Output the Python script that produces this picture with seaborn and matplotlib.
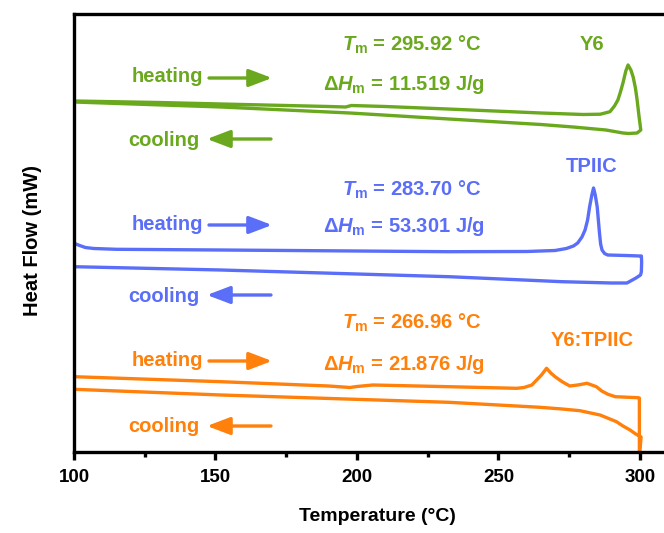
import numpy as np
import pandas as pd
import matplotlib
matplotlib.use("Agg")
import matplotlib.pyplot as plt
import seaborn as sns

# ---------------- data (heat flow in arbitrary, offset units) ----------------
y6_heat_T = [100, 130, 152, 175, 190, 196, 198, 210, 232, 265, 280, 286, 289.4, 291, 292.2, 293, 294, 295,
             295.8, 296.8, 297.6, 298.4, 299, 299.7, 300.3]
y6_heat_H = [351, 349.5, 348, 346.5, 345.5, 345, 346.5, 345.5, 343, 339, 337.5, 337.8, 340.3, 346, 352, 359,
             369, 381, 387, 382, 375, 364, 352, 335, 322]
y6_cool_T = [300.3, 299, 296, 294, 288, 276.4, 265, 259, 232.5, 197.5, 152, 100]
y6_cool_H = [322, 319, 318.5, 319, 322, 325, 327.5, 328.5, 333, 339, 345, 350]

tp_heat_T = [100, 102, 104, 107, 115, 152, 200, 232.5, 260, 270, 274, 276.5, 278, 279.5, 280.6, 281.5, 282.2,
             283, 283.6, 284.2, 284.9, 285.3, 285.7, 286.1, 286.6, 287.5, 288.6, 295, 300, 300.5]
tp_heat_H = [208.7, 206.5, 204.5, 203.5, 202.7, 202, 201, 200.3, 200.5, 201.5, 203.5, 206, 209, 215, 222, 232,
             245, 257, 264, 257, 245, 232, 219, 208, 202, 198.5, 197, 196.5, 196, 196]
tp_cool_T = [300.6, 300.5, 300.2, 298.6, 295.4, 290, 272.5, 232.5, 152, 100]
tp_cool_H = [190, 180.3, 177, 174, 169, 169, 170.3, 175.3, 182, 185.3]

mix_heat_T = [100, 152, 190, 197.5, 200, 205.6, 232.5, 256.5, 259, 261.8, 263.5, 265.2, 267, 268.5, 270, 272.5,
              275.2, 278, 281.3, 284.6, 286.5, 288.7, 291.3, 299.3, 299.8, 299.8]
mix_heat_H = [75.3, 70.3, 66, 64.5, 65.5, 67, 65.3, 63.7, 64.5, 67, 72, 77, 83.7, 79, 75.3, 70.3,
              66, 67, 68.7, 65.3, 61, 57.7, 55.3, 54.3, 54, -5]
mix_cool_T = [300.4, 298.5, 296.5, 294, 291.7, 288.5, 285.9, 278.8, 272.5, 264.7, 232.5, 152, 100]
mix_cool_H = [15, 18, 22, 26, 30.3, 34, 37, 41.3, 43, 44.7, 49.7, 57, 62.7]

samples = ["Y6", "TPIIC", "Y6:TPIIC"]
colors = {"Y6": "#6aa81e", "TPIIC": "#5a6ef8", "Y6:TPIIC": "#ff800a"}
tm_text = {"Y6": "295.92", "TPIIC": "283.70", "Y6:TPIIC": "266.96"}
dh_text = {"Y6": "11.519", "TPIIC": "53.301", "Y6:TPIIC": "21.876"}

# ---------------- style ----------------
sns.set_style("white")
plt.rcParams["font.family"] = ["Liberation Sans", "DejaVu Sans"]
plt.rcParams["font.weight"] = "bold"
plt.rcParams["text.color"] = "black"
plt.rcParams["axes.labelcolor"] = "black"
plt.rcParams["xtick.color"] = "black"
plt.rcParams["mathtext.fontset"] = "custom"
plt.rcParams["mathtext.rm"] = "Liberation Sans:bold"
plt.rcParams["mathtext.it"] = "Liberation Sans:italic:bold"
plt.rcParams["mathtext.bf"] = "Liberation Sans:bold"

fig = plt.figure(figsize=(6.64, 5.33), dpi=100)
ax = fig.add_axes([74 / 664, 1 - 452 / 533, 1 - 74 / 664, (452 - 14) / 533])

frames = []
for name, (hT, hH, cT, cH) in {
    "Y6": (y6_heat_T, y6_heat_H, y6_cool_T, y6_cool_H),
    "TPIIC": (tp_heat_T, tp_heat_H, tp_cool_T, tp_cool_H),
    "Y6:TPIIC": (mix_heat_T, mix_heat_H, mix_cool_T, mix_cool_H),
}.items():
    df = pd.DataFrame({"T": list(hT) + list(cT), "H": list(hH) + list(cH)})
    sns.lineplot(data=df, x="T", y="H", sort=False, estimator=None, color=colors[name],
                 lw=2.4, ax=ax, solid_joinstyle="round", solid_capstyle="round")

ax.set_xlim(100, 308.5)
ax.set_ylim(0, 438)

# annotations
def T(px):
    return 100 + (px - 74) / 2.83

def H(py):
    return 452 - py

lab = {"Y6": (45, 77, 140, 45, 85), "TPIIC": (166, 224, 296, 190, 227), "Y6:TPIIC": (340, 360, 427, 323, 365)}
fs = 14.5
for name in samples:
    c = colors[name]
    ly, hy, cy, tmy, dhy = lab[name]
    ax.text(T(592), H(ly), name, color=c, fontsize=fs, fontweight="bold", ha="center", va="center")
    ax.text(T(167), H(hy), "heating", color=c, fontsize=fs, fontweight="bold", ha="center", va="center")
    ax.text(T(164), H(cy), "cooling", color=c, fontsize=fs, fontweight="bold", ha="center", va="center")
    ap = dict(arrowstyle="-|>,head_length=1.0,head_width=0.38", color=c, lw=2.4, mutation_scale=14,
              shrinkA=0, shrinkB=0)
    ax.annotate("", xy=(T(272), H(hy + 1)), xytext=(T(209), H(hy + 1)), arrowprops=ap)
    ax.annotate("", xy=(T(207), H(cy - 1)), xytext=(T(271), H(cy - 1)), arrowprops=ap)
    ax.text(T(412), H(tmy), r"$T_{\mathrm{m}}$ = " + tm_text[name] + " °C", color=c, fontsize=fs,
            fontweight="bold", ha="center", va="center")
    ax.text(T(404), H(dhy), r"Δ$H_{\mathrm{m}}$ = " + dh_text[name] + " J/g", color=c, fontsize=fs,
            fontweight="bold", ha="center", va="center")

# axes styling
for s in ["left", "bottom", "top"]:
    ax.spines[s].set_linewidth(2.4)
    ax.spines[s].set_color("black")
ax.spines["right"].set_visible(False)
ax.set_yticks([])
ax.set_xticks([100, 150, 200, 250, 300])
ax.set_xticks([125, 175, 225, 275], minor=True)
ax.tick_params(axis="x", which="major", direction="out", length=6, width=2.4, labelsize=13.5, pad=6,
               bottom=True, colors="black")
ax.tick_params(axis="x", which="minor", direction="out", length=3.5, width=2.4, bottom=True, colors="black")
for lbl in ax.get_xticklabels():
    lbl.set_fontweight("bold")
ax.set_xlabel("Temperature (°C)", fontsize=14, fontweight="bold", color="black")
ax.set_ylabel("Heat Flow (mW)", fontsize=14.5, fontweight="bold", color="black")
ax.xaxis.set_label_coords((377 - 74) / 590, -(508 - 452) / 438)
ax.yaxis.set_label_coords(-(74 - 42) / 590, (452 - 241) / 438)

fig.savefig("out.png", dpi=100)
